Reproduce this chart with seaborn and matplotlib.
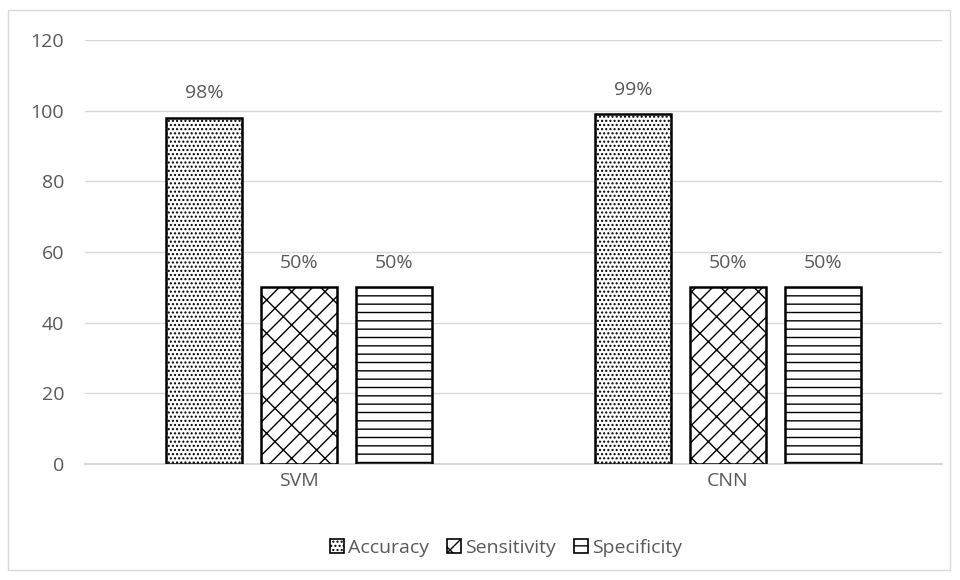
import matplotlib
matplotlib.use("Agg")
import matplotlib.pyplot as plt
import matplotlib.patches as mpatches
import seaborn as sns
import pandas as pd

models = ["SVM", "CNN"]
metrics = ["Accuracy", "Sensitivity", "Specificity"]
accuracy = [98, 99]
sensitivity = [50, 50]
specificity = [50, 50]
y_ticks = [0, 20, 40, 60, 80, 100, 120]

rows = []
for i, m in enumerate(models):
    rows.append((m, "Accuracy", accuracy[i]))
    rows.append((m, "Sensitivity", sensitivity[i]))
    rows.append((m, "Specificity", specificity[i]))
df = pd.DataFrame(rows, columns=["model", "metric", "value"])

sns.set_style("white")
plt.rcParams["font.family"] = ["Open Sans", "DejaVu Sans"]
plt.rcParams["hatch.linewidth"] = 1.0
plt.rcParams["hatch.color"] = "black"

grey = "#595959"
fs = 14
hatches = {"Accuracy": "....", "Sensitivity": "/x", "Specificity": "--"}

fig = plt.figure(figsize=(9.6, 5.8), dpi=100)
ax = fig.add_axes([85 / 960, 1 - 464 / 580, 857 / 960, 424 / 580])

sns.barplot(data=df, x="model", y="value", hue="metric", order=models,
            hue_order=metrics, width=0.664, gap=0.2,
            palette=["white"] * 3, edgecolor="black", linewidth=1.8,
            ax=ax, legend=False)

for container, metric in zip(ax.containers, metrics):
    for bar in container:
        bar.set_hatch(hatches[metric])
        bar.set_edgecolor("black")
    ax.bar_label(container, labels=[f"{v:.0f}%" for v in container.datavalues],
                 padding=11, color=grey, fontsize=fs)

ax.set_ylim(0, 120)
ax.set_xlim(-0.5, 1.5)
ax.set_yticks(y_ticks)
ax.yaxis.grid(True, color="#d9d9d9", linewidth=1)
ax.set_axisbelow(True)
ax.axhline(0, color="#d9d9d9", linewidth=1.5, clip_on=False, zorder=0.5)
for s in ax.spines.values():
    s.set_visible(False)
ax.tick_params(axis="y", length=0, pad=15, labelcolor=grey, labelsize=fs)
ax.tick_params(axis="x", length=0, pad=6, labelcolor=grey, labelsize=fs)
ax.set_xlabel("")
ax.set_ylabel("")

handles = [mpatches.Patch(facecolor="white", edgecolor="black", hatch=hatches[m],
                          linewidth=1.2, label=m) for m in metrics]
fig.legend(handles=handles, loc="center", bbox_to_anchor=(506 / 960, 1 - 548 / 580),
           ncol=3, frameon=False, fontsize=fs, labelcolor=grey,
           handlelength=0.75, handleheight=0.75, handletextpad=0.2,
           columnspacing=0.9)

fig.add_artist(mpatches.Rectangle((8 / 960, 10 / 580), 942 / 960, 560 / 580,
                                  transform=fig.transFigure, fill=False,
                                  edgecolor="#d9d9d9", linewidth=1))

fig.savefig("out.png", dpi=100)
